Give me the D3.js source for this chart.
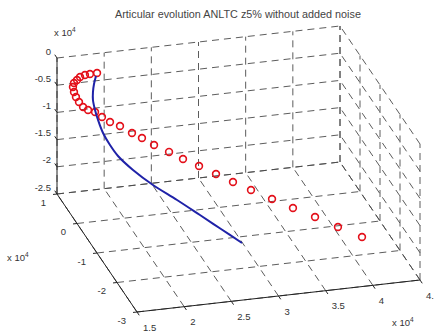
<!DOCTYPE html>
<html>
<head>
<meta charset="utf-8">
<script src="https://cdn.jsdelivr.net/npm/d3@7"></script>
<style>
  body { margin: 0; background: #fff; }
  svg { display: block; font-family: "Liberation Sans", Arial, sans-serif; }
</style>
</head>
<body>
<svg id="chart" width="434" height="335"></svg>
<script>
const title = 'Articular evolution ANLTC z5% without added noise';

// axis ticks (raw units, shown as x 10^4)
const xTicks = [15000, 20000, 25000, 30000, 35000, 40000, 45000];
const yTicks = [-30000, -20000, -10000, 0, 10000];
const zTicks = [-25000, -20000, -15000, -10000, -5000, 0];

// red circles (reference)
const redX = [18820, 17900, 17200, 16510, 16020, 15530, 15250, 15190, 15230, 15380,
  15640, 16000, 16570, 17140, 17820, 18710, 19810, 20700, 21810, 23230,
  24540, 26070, 27700, 29330, 31070, 33130, 35180, 37350, 39610, 41990];
const redY = [8000, 7200, 6400, 5600, 4800, 4000, 3200, 2400, 1600, 800,
  0, -800, -1600, -2400, -3200, -4000, -4800, -5600, -6400, -7200,
  -8000, -8800, -9600, -10400, -11200, -12000, -12800, -13600, -14400, -15200];
const redZ = [-2420, -1990, -1600, -1400, -1420, -1450, -1690, -2170, -2660, -3170,
  -3710, -3900, -3940, -4540, -5160, -5640, -6700, -7360, -8430, -9560,
  -10680, -11830, -13190, -14540, -15920, -17540, -19170, -20810, -22660, -24530];

// blue line (result)
const blueX = [18710, 18160, 17710, 17370, 17250, 17230, 17420, 17820, 18330, 19580, 21360, 23570, 25660, 27550, 29440];
const blueY = [8000, 6400, 4800, 3200, 1600, 0, -1600, -3200, -4800, -6400, -8000, -9600, -11200, -12800, -14400];
const blueZ = [-2950, -3450, -3960, -4500, -5440, -6410, -7970, -9390, -10640, -12590, -14830, -17150, -19460, -21530, -23610];

const svg = d3.select('#chart');

// normalised box coords, then a fixed orthographic view
const sx = d3.scaleLinear().domain([15000, 45000]).range([0, 1]);
const sy = d3.scaleLinear().domain([-30000, 10000]).range([0, 1]);
const sz = d3.scaleLinear().domain([-25000, 0]).range([0, 1]);

const origin = [137, 312];
const ex = [283, -32], ey = [-80, -118], ez = [0, -136];

function proj(x, y, z) {
  const a = sx(x), b = sy(y), c = sz(z);
  return [origin[0] + a * ex[0] + b * ey[0] + c * ez[0],
          origin[1] + a * ex[1] + b * ey[1] + c * ez[1]];
}

const [x0, x1] = sx.domain(), [y0, y1] = sy.domain(), [z0, z1] = sz.domain();

// grid on the back planes
const grid = [];
xTicks.forEach(v => {
  grid.push([[v, y1, z0], [v, y1, z1]]);   // back wall
  grid.push([[v, y0, z0], [v, y1, z0]]);   // floor
});
yTicks.forEach(v => {
  grid.push([[x0, v, z0], [x1, v, z0]]);   // floor
  grid.push([[x1, v, z0], [x1, v, z1]]);   // right wall
});
zTicks.forEach(v => {
  grid.push([[x0, y1, v], [x1, y1, v]]);   // back wall
  grid.push([[x1, y0, v], [x1, y1, v]]);   // right wall
});

svg.append('g').selectAll('line').data(grid).enter().append('line')
  .attr('x1', d => proj(...d[0])[0]).attr('y1', d => proj(...d[0])[1])
  .attr('x2', d => proj(...d[1])[0]).attr('y2', d => proj(...d[1])[1])
  .attr('stroke', '#4a4a4a').attr('stroke-width', 0.9)
  .attr('stroke-dasharray', '7,5');

// axis lines
const axes = [
  [[x0, y0, z0], [x1, y0, z0]],
  [[x0, y0, z0], [x0, y1, z0]],
  [[x0, y1, z0], [x0, y1, z1]]
];
svg.append('g').selectAll('line').data(axes).enter().append('line')
  .attr('x1', d => proj(...d[0])[0]).attr('y1', d => proj(...d[0])[1])
  .attr('x2', d => proj(...d[1])[0]).attr('y2', d => proj(...d[1])[1])
  .attr('stroke', '#222').attr('stroke-width', 1);

const tickLen = 4;
const txt = svg.append('g').attr('fill', '#333').attr('font-size', '9.5px');
const ticks = svg.append('g').attr('stroke', '#222').attr('stroke-width', 1);
const fmt = v => String(v / 1e4);

// x ticks point toward the viewer (-y)
xTicks.forEach(v => {
  const p = proj(v, y0, z0);
  ticks.append('line').attr('x1', p[0]).attr('y1', p[1])
    .attr('x2', p[0] + tickLen * 0.561).attr('y2', p[1] + tickLen * 0.828);
  txt.append('text').attr('x', p[0] + 6).attr('y', p[1] + 18.5).text(fmt(v));
});
// y ticks point to -x
yTicks.forEach(v => {
  const p = proj(x0, v, z0);
  ticks.append('line').attr('x1', p[0]).attr('y1', p[1])
    .attr('x2', p[0] - tickLen * 0.994).attr('y2', p[1] + tickLen * 0.112);
  txt.append('text').attr('x', p[0] - 11).attr('y', p[1] + 11.5)
    .attr('text-anchor', 'end').text(fmt(v));
});
// z ticks point to +y
zTicks.forEach(v => {
  const p = proj(x0, y1, v);
  ticks.append('line').attr('x1', p[0]).attr('y1', p[1])
    .attr('x2', p[0] - tickLen * 0.561).attr('y2', p[1] - tickLen * 0.828);
  txt.append('text').attr('x', p[0] - 6).attr('y', p[1] - 3.5)
    .attr('text-anchor', 'end').text(fmt(v));
});

// exponent labels
function expLabel(x, y) {
  const t = txt.append('text').attr('x', x).attr('y', y);
  t.append('tspan').text('x 10');
  t.append('tspan').attr('dy', -4).attr('font-size', '6.5px').text('4');
}
expLabel(54, 36);
expLabel(7, 261);
expLabel(392, 326);

// data
const red = redX.map((x, i) => proj(x, redY[i], redZ[i]));
svg.append('g').selectAll('circle').data(red).enter().append('circle')
  .attr('cx', d => d[0]).attr('cy', d => d[1]).attr('r', 3.4)
  .attr('fill', 'none').attr('stroke', '#e3101a').attr('stroke-width', 1.6);

const blue = blueX.map((x, i) => proj(x, blueY[i], blueZ[i]));
svg.append('path').datum(blue)
  .attr('d', d3.line().curve(d3.curveCatmullRom.alpha(0.5)))
  .attr('fill', 'none').attr('stroke', '#1f22a8').attr('stroke-width', 2);

svg.append('text').attr('x', 238).attr('y', 18).attr('text-anchor', 'middle')
  .attr('font-size', '10.8px').attr('fill', '#444').text(title);
</script>
</body>
</html>
